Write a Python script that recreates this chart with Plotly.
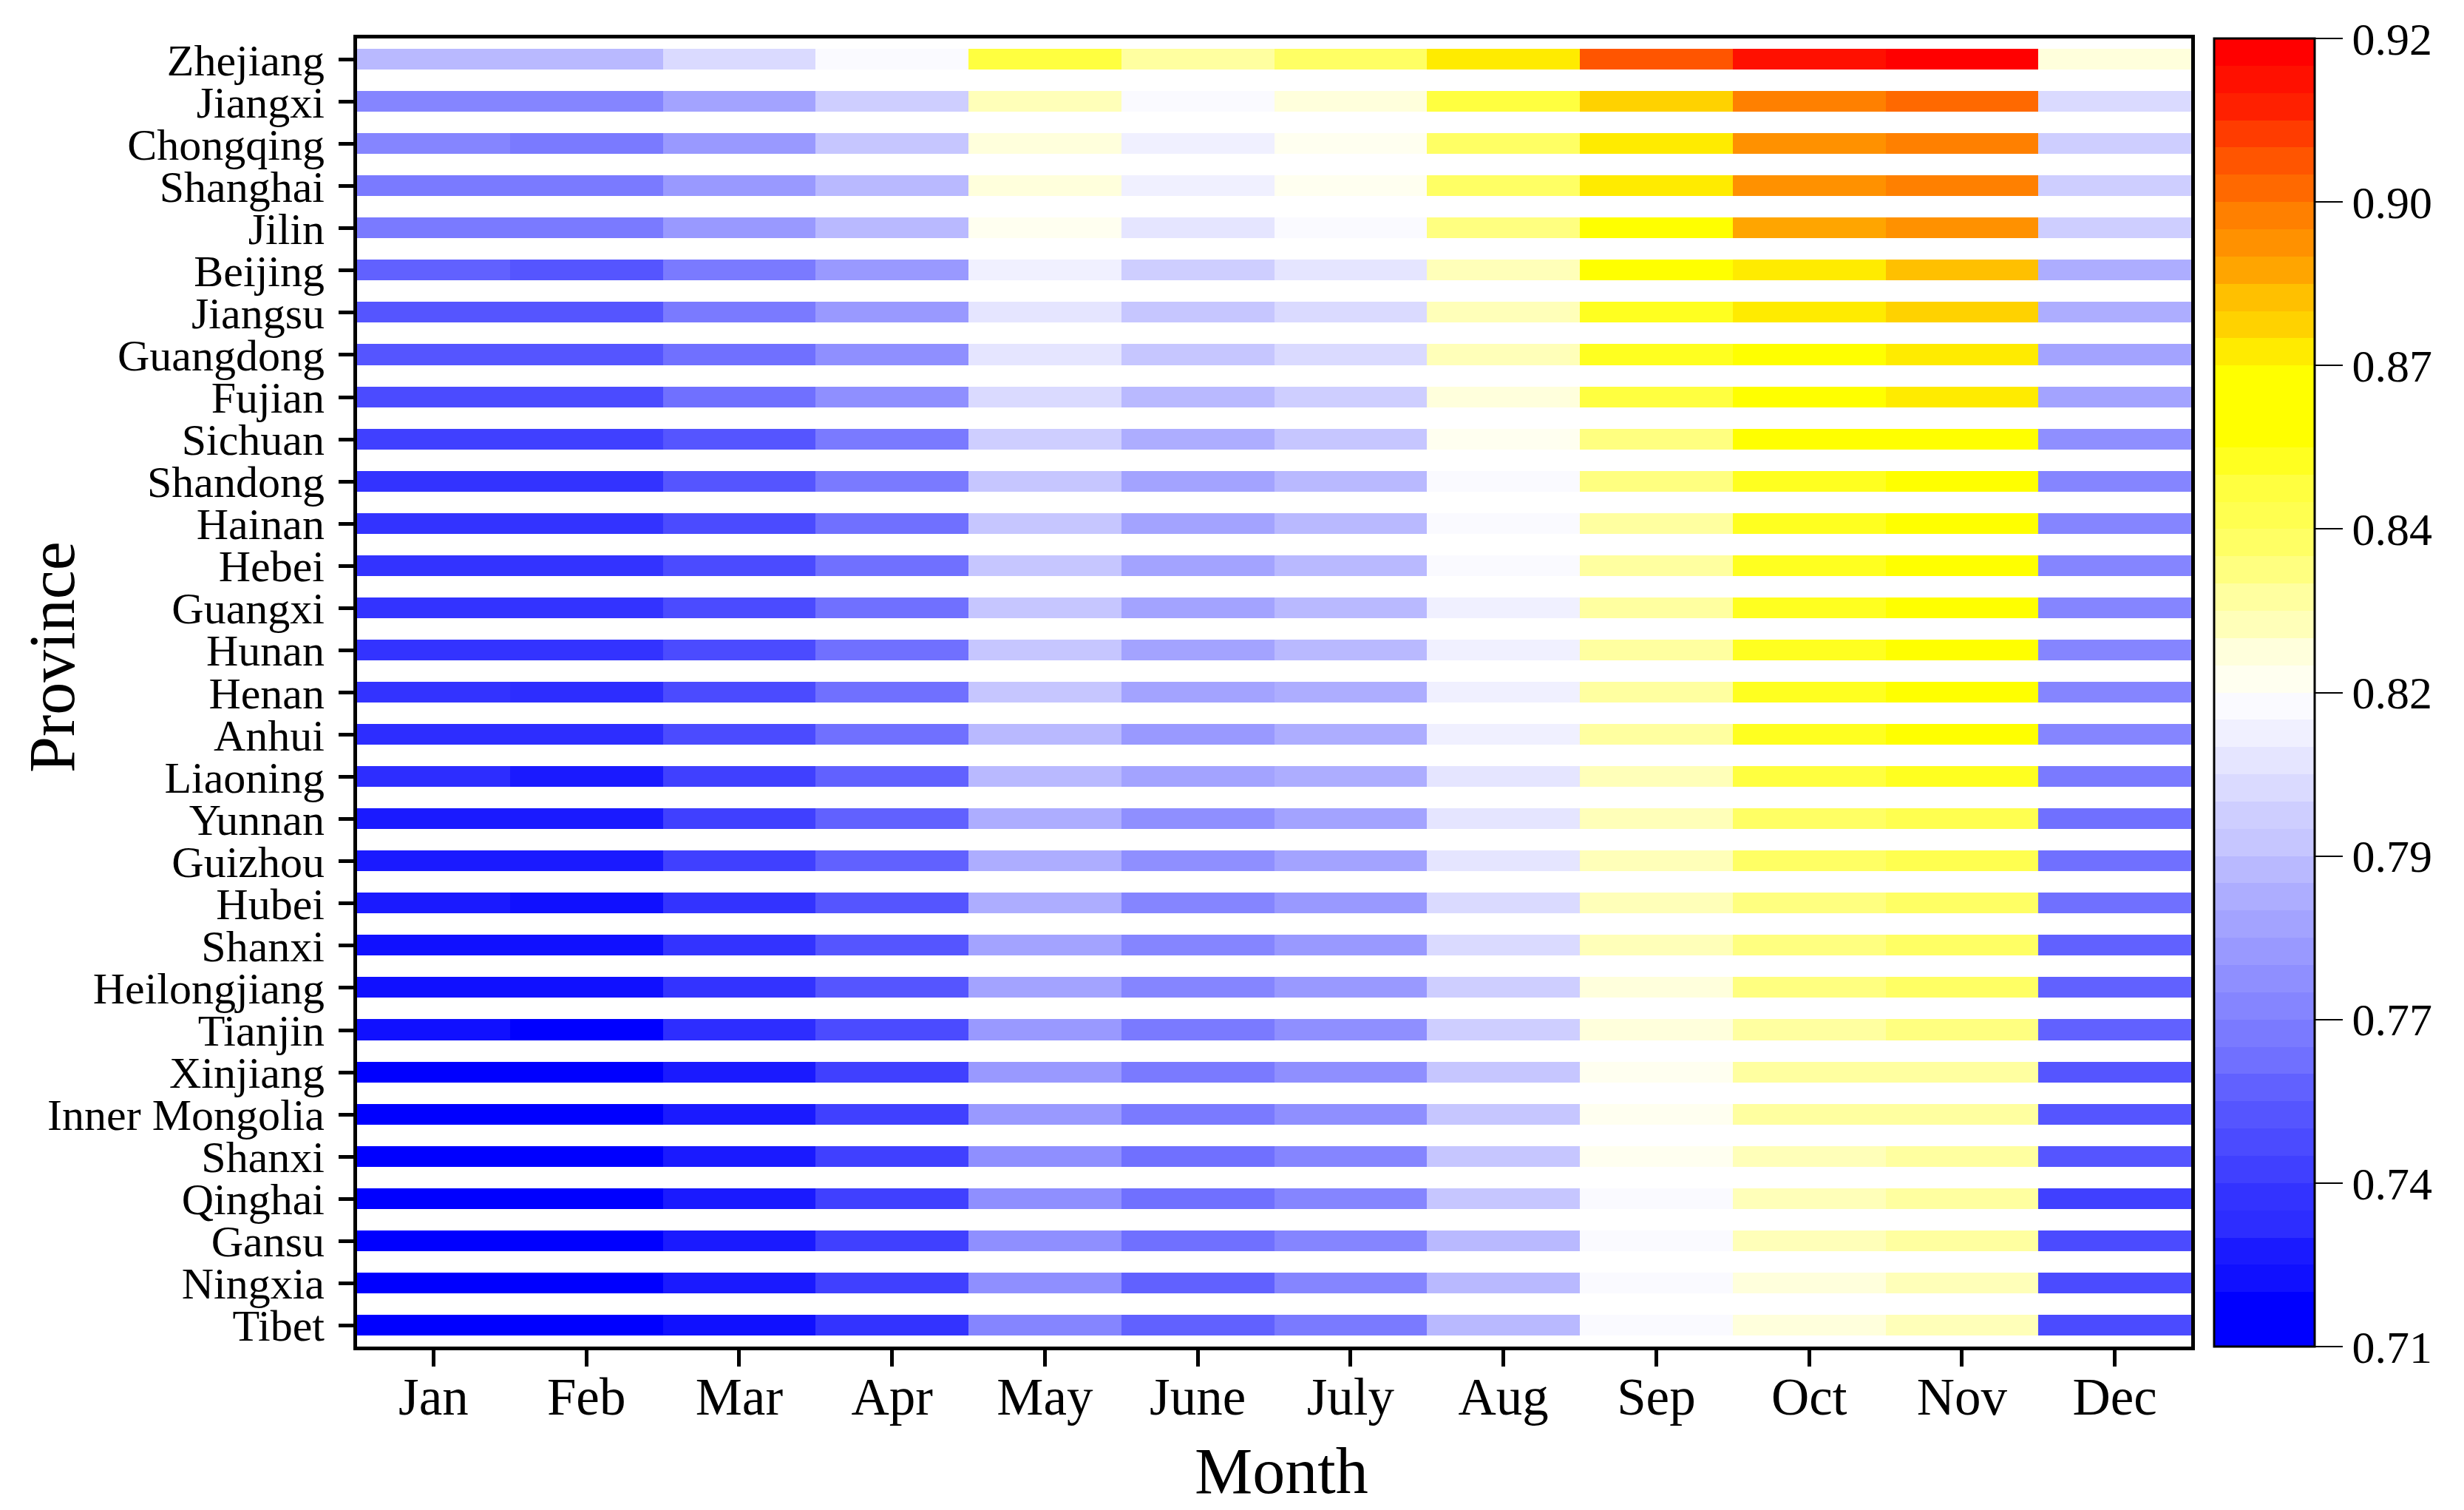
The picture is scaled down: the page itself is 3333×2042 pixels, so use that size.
import plotly.graph_objects as go

months = ["Jan", "Feb", "Mar", "Apr", "May", "June", "July", "Aug", "Sep", "Oct", "Nov", "Dec"]

provinces = ["Zhejiang", "Jiangxi", "Chongqing", "Shanghai", "Jilin", "Beijing", "Jiangsu",
             "Guangdong", "Fujian", "Sichuan", "Shandong", "Hainan", "Hebei", "Guangxi",
             "Hunan", "Henan", "Anhui", "Liaoning", "Yunnan", "Guizhou", "Hubei", "Shanxi",
             "Heilongjiang", "Tianjin", "Xinjiang", "Inner Mongolia", "Shanxi", "Qinghai",
             "Gansu", "Ningxia", "Tibet"]

zhejiang = [0.787, 0.787, 0.800, 0.813, 0.848, 0.830, 0.839, 0.870, 0.900, 0.913, 0.918, 0.822]
jiangxi = [0.765, 0.765, 0.778, 0.795, 0.826, 0.813, 0.822, 0.848, 0.874, 0.892, 0.896, 0.800]
chongqing = [0.765, 0.760, 0.773, 0.791, 0.822, 0.808, 0.817, 0.839, 0.870, 0.887, 0.892, 0.795]
shanghai = [0.760, 0.760, 0.773, 0.787, 0.822, 0.808, 0.817, 0.839, 0.870, 0.887, 0.892, 0.795]
jilin = [0.760, 0.760, 0.773, 0.787, 0.817, 0.804, 0.813, 0.835, 0.861, 0.883, 0.887, 0.795]
beijing = [0.752, 0.747, 0.760, 0.773, 0.808, 0.795, 0.804, 0.826, 0.861, 0.870, 0.878, 0.782]
jiangsu = [0.747, 0.747, 0.760, 0.773, 0.804, 0.791, 0.800, 0.826, 0.852, 0.870, 0.874, 0.782]
guangdong = [0.747, 0.747, 0.756, 0.769, 0.804, 0.791, 0.800, 0.826, 0.852, 0.861, 0.870, 0.778]
fujian = [0.743, 0.743, 0.756, 0.769, 0.800, 0.787, 0.795, 0.822, 0.848, 0.861, 0.870, 0.778]
sichuan = [0.738, 0.738, 0.747, 0.760, 0.795, 0.782, 0.791, 0.817, 0.835, 0.861, 0.861, 0.769]
shandong = [0.734, 0.734, 0.747, 0.760, 0.791, 0.778, 0.787, 0.813, 0.835, 0.852, 0.861, 0.765]
hainan = [0.734, 0.734, 0.743, 0.756, 0.791, 0.778, 0.787, 0.813, 0.830, 0.852, 0.861, 0.765]
hebei = [0.734, 0.734, 0.743, 0.756, 0.791, 0.778, 0.787, 0.813, 0.830, 0.852, 0.861, 0.765]
guangxi = [0.734, 0.734, 0.743, 0.756, 0.791, 0.778, 0.787, 0.808, 0.830, 0.852, 0.861, 0.765]
hunan = [0.734, 0.734, 0.743, 0.756, 0.791, 0.778, 0.787, 0.808, 0.830, 0.852, 0.861, 0.765]
henan = [0.734, 0.730, 0.743, 0.756, 0.791, 0.778, 0.782, 0.808, 0.830, 0.852, 0.861, 0.765]
anhui = [0.730, 0.730, 0.743, 0.756, 0.787, 0.773, 0.782, 0.808, 0.830, 0.852, 0.861, 0.765]
liaoning = [0.730, 0.725, 0.738, 0.752, 0.787, 0.778, 0.782, 0.804, 0.826, 0.848, 0.852, 0.760]
yunnan = [0.725, 0.725, 0.738, 0.752, 0.782, 0.769, 0.778, 0.804, 0.826, 0.839, 0.843, 0.756]
guizhou = [0.725, 0.725, 0.738, 0.752, 0.782, 0.769, 0.778, 0.804, 0.826, 0.839, 0.843, 0.756]
hubei = [0.725, 0.721, 0.734, 0.747, 0.782, 0.765, 0.773, 0.800, 0.826, 0.835, 0.839, 0.756]
shanxi = [0.721, 0.721, 0.734, 0.747, 0.778, 0.765, 0.773, 0.800, 0.826, 0.835, 0.839, 0.752]
heilongjiang = [0.721, 0.721, 0.734, 0.747, 0.778, 0.765, 0.773, 0.795, 0.822, 0.835, 0.839, 0.752]
tianjin = [0.721, 0.712, 0.730, 0.743, 0.773, 0.760, 0.769, 0.795, 0.822, 0.830, 0.835, 0.752]
xinjiang = [0.712, 0.712, 0.725, 0.738, 0.773, 0.760, 0.769, 0.791, 0.817, 0.830, 0.830, 0.747]
inner_mongolia = [0.712, 0.712, 0.725, 0.738, 0.773, 0.760, 0.769, 0.791, 0.817, 0.830, 0.830, 0.747]
shanxi_2 = [0.712, 0.712, 0.725, 0.738, 0.769, 0.756, 0.765, 0.791, 0.817, 0.826, 0.830, 0.747]
qinghai = [0.712, 0.712, 0.725, 0.738, 0.769, 0.756, 0.765, 0.791, 0.813, 0.826, 0.830, 0.738]
gansu = [0.712, 0.712, 0.725, 0.738, 0.769, 0.756, 0.765, 0.787, 0.813, 0.826, 0.830, 0.743]
ningxia = [0.712, 0.712, 0.725, 0.738, 0.769, 0.752, 0.765, 0.787, 0.813, 0.822, 0.826, 0.743]
tibet = [0.712, 0.712, 0.721, 0.734, 0.765, 0.752, 0.760, 0.787, 0.813, 0.822, 0.826, 0.743]

z_rows = [zhejiang, jiangxi, chongqing, shanghai, jilin, beijing, jiangsu, guangdong, fujian,
          sichuan, shandong, hainan, hebei, guangxi, hunan, henan, anhui, liaoning, yunnan,
          guizhou, hubei, shanxi, heilongjiang, tianjin, xinjiang, inner_mongolia, shanxi_2,
          qinghai, gansu, ningxia, tibet]

cbar_min = 0.71
cbar_max = 0.92
cbar_ticktext = ["0.71", "0.74", "0.77", "0.79", "0.82", "0.84", "0.87", "0.90", "0.92"]

# 48 discrete colour levels (bottom to top), as in the reference colour bar
level_colors = [
    (0, 0, 255), (0, 0, 255), (16, 16, 255), (26, 26, 255), (45, 45, 255), (51, 51, 255),
    (64, 64, 255), (75, 75, 255), (85, 85, 255), (97, 97, 255), (112, 112, 255), (122, 122, 255),
    (133, 133, 255), (143, 143, 255), (153, 153, 255), (163, 163, 255), (173, 173, 255), (185, 185, 255),
    (198, 198, 255), (206, 206, 255), (218, 218, 255), (229, 229, 255), (240, 240, 255), (250, 250, 255),
    (255, 255, 240), (255, 255, 220), (255, 255, 185), (255, 255, 160), (255, 255, 128), (255, 255, 100),
    (255, 255, 80), (255, 255, 64), (255, 255, 32), (255, 255, 0), (255, 255, 0), (255, 255, 0),
    (255, 235, 0), (255, 210, 0), (255, 192, 0), (255, 165, 0), (255, 145, 0), (255, 128, 0),
    (255, 105, 0), (255, 85, 0), (255, 60, 0), (255, 32, 0), (255, 16, 0), (255, 0, 0),
]
n = len(level_colors)
colorscale = []
for k, c in enumerate(level_colors):
    col = "rgb(%d,%d,%d)" % c
    colorscale.append([k / n, col])
    colorscale.append([(k + 1) / n, col])

step = (cbar_max - cbar_min) / (len(cbar_ticktext) - 1)
cbar_tickvals = [cbar_min + i * step for i in range(len(cbar_ticktext))]

FONT = "Liberation Serif, Times New Roman, serif"

fig = go.Figure(go.Heatmap(
    z=z_rows,
    x=list(range(len(months))),
    y=list(range(len(provinces))),
    zmin=cbar_min, zmax=cbar_max,
    colorscale=colorscale,
    ygap=29,
    zsmooth=False,
    colorbar=dict(
        thickness=136, thicknessmode="pixels",
        len=1.0, lenmode="fraction",
        x=1.0125, xanchor="left", xpad=0,
        y=0.5, yanchor="middle", ypad=0,
        outlinewidth=3, outlinecolor="black",
        ticks="outside", ticklen=37, tickwidth=2, tickcolor="black",
        tickmode="array", tickvals=cbar_tickvals, ticktext=cbar_ticktext,
        tickfont=dict(family=FONT, size=62, color="black"),
    ),
))

fig.update_layout(
    width=3333, height=2042,
    margin=dict(l=475, r=377, t=44, b=229),
    paper_bgcolor="white", plot_bgcolor="white",
    font=dict(family=FONT, color="black"),
    xaxis=dict(
        tickmode="array", tickvals=list(range(len(months))), ticktext=months,
        range=[-0.5, len(months) - 0.5],
        showline=True, linecolor="black", linewidth=5, mirror=True,
        ticks="outside", ticklen=22, tickwidth=5, tickcolor="black",
        ticklabelstandoff=-20,
        tickfont=dict(family=FONT, size=71, color="black"),
        showgrid=False, zeroline=False,
    ),
    yaxis=dict(
        tickmode="array", tickvals=list(range(len(provinces))), ticktext=provinces,
        range=[len(provinces) - 0.5, -0.5],
        showline=True, linecolor="black", linewidth=5, mirror=True,
        ticks="outside", ticklen=20, tickwidth=5, tickcolor="black",
        ticklabelstandoff=7,
        tickfont=dict(family=FONT, size=60, color="black"),
        showgrid=False, zeroline=False,
    ),
    annotations=[
        dict(text="Month", xref="paper", yref="paper", x=0.504, y=-0.095,
             xanchor="center", yanchor="middle", showarrow=False,
             font=dict(family=FONT, size=88, color="black")),
        dict(text="Province", xref="paper", yref="paper", x=-0.166, y=0.527,
             xanchor="center", yanchor="middle", showarrow=False, textangle=-90,
             font=dict(family=FONT, size=88, color="black")),
    ],
)

fig.write_html("out.html")
